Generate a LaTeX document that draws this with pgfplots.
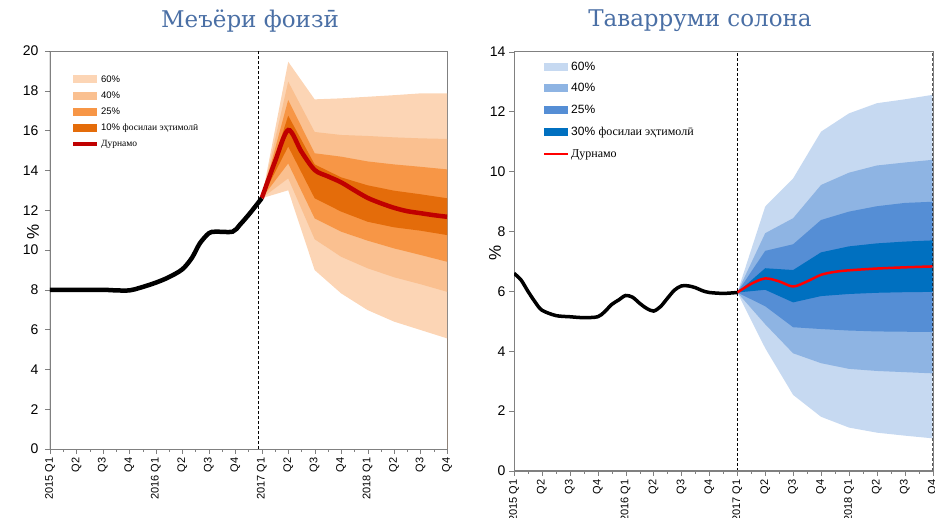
\documentclass[border=0pt]{standalone}
\usepackage{fontspec}
\setmainfont{Liberation Sans}
\newfontfamily\serifcyr{Liberation Serif}
\newfontfamily\titlefont{DejaVu Serif}
\usepackage{pgfplots}
\pgfplotsset{compat=1.18}
\definecolor{o60}{HTML}{FCD5B5}
\definecolor{o40}{HTML}{FAC090}
\definecolor{o25}{HTML}{F79646}
\definecolor{o10}{HTML}{E46C0A}
\definecolor{dred}{HTML}{C00000}
\definecolor{b60}{HTML}{C6D9F1}
\definecolor{b40}{HTML}{8EB4E3}
\definecolor{b25}{HTML}{558ED5}
\definecolor{b10}{HTML}{0070C0}
\definecolor{ttl}{HTML}{4A6FA5}
\pgfplotsset{
  patch/.style={area legend, legend image code/.code={\fill[##1] (0pt,-4pt) rectangle (24pt,4pt);}},
  lineleg/.style={legend image code/.code={\draw[##1] (0pt,0pt) -- (24pt,0pt);}},
  fanaxis/.style={
    scale only axis, xmin=0, xmax=15,
    xtick={0,...,15},
    xticklabels={2015 Q1,Q2,Q3,Q4,2016 Q1,Q2,Q3,Q4,2017 Q1,Q2,Q3,Q4,2018 Q1,Q2,Q3,Q4},
    minor x tick num=1,
    xtick pos=bottom, ytick pos=left,
    x tick label style={rotate=90, anchor=east, font=\fontsize{11}{12}\selectfont},
    y tick label style={font=\fontsize{14}{15}\selectfont},
    /pgf/number format/assume math mode=true,
    tick align=outside, major tick length=5pt, minor tick length=3pt,
    axis line style={draw=gray}, tick style={draw=gray},
    no markers,
    legend cell align=left,
  },
}
\begin{document}
\begin{tikzpicture}[x=1pt,y=1pt]
\useasboundingbox (0,0) rectangle (935,518);
\node[font=\titlefont\fontsize{23}{26}\selectfont, text=ttl] at (250,497) {Меъёри фоизӣ};
\node[font=\titlefont\fontsize{23}{26}\selectfont, text=ttl] at (700,497) {Таварруми солона};
\node[rotate=90, font=\fontsize{17}{18}\selectfont] at (33,286) {\%};
\node[rotate=90, font=\fontsize{17}{18}\selectfont] at (495,265) {\%};

% ---------------- left chart
\begin{axis}[fanaxis, at={(50pt,69pt)}, anchor=south west, width=397pt, height=398pt,
  ymin=0, ymax=20, ytick={0,2,...,20},
  y tick label style={xshift=-3pt},
  legend style={at={(rel axis cs:0.045,0.948)}, anchor=north west, draw=none, fill=none,
    font=\fontsize{9.5}{10}\selectfont, row sep=5pt, nodes={inner sep=1.5pt}}]
\addplot[fill=o60, draw=none, patch] coordinates {
 (8,12.6) (9,19.46) (10,17.57) (11,17.62) (12,17.7) (13,17.78) (14,17.87) (15,17.87)
 (15,5.56) (14,5.98) (13,6.4) (12,6.98) (11,7.82) (10,8.99) (9,13.0)} --cycle;
\addlegendentry{60\%}
\addplot[fill=o40, draw=none, patch] coordinates {
 (8,12.6) (9,18.46) (10,15.93) (11,15.78) (12,15.73) (13,15.66) (14,15.61) (15,15.58)
 (15,7.9) (14,8.28) (13,8.63) (12,9.08) (11,9.66) (10,10.54) (9,13.6)} --cycle;
\addlegendentry{40\%}
\addplot[fill=o25, draw=none, patch] coordinates {
 (8,12.6) (9,17.54) (10,14.86) (11,14.69) (12,14.45) (13,14.3) (14,14.18) (15,14.05)
 (15,9.41) (14,9.75) (13,10.08) (12,10.47) (11,10.92) (10,11.59) (9,14.35)} --cycle;
\addlegendentry{25\%}
\addplot[fill=o10, draw=none, patch] coordinates {
 (8,12.6) (9,16.75) (10,14.3) (11,13.65) (12,13.25) (13,12.98) (14,12.8) (15,12.6)
 (15,10.75) (14,10.97) (13,11.14) (12,11.42) (11,11.93) (10,12.6) (9,15.2)} --cycle;
\addlegendentry{10\% {\serifcyr фосилаи эҳтимолӣ}}
\addplot[dred, line width=4.5pt, smooth, tension=0.5, lineleg] coordinates {
 (8,12.6) (8.5,14.44) (9,16.03) (9.5,14.94) (10,14.02) (10.5,13.7) (11,13.4)
 (11.5,13.0) (12,12.62) (12.5,12.35) (13,12.12) (13.5,11.95) (14,11.85) (14.5,11.75) (15,11.67)};
\addlegendentry{{\serifcyr Дурнамо}}
\addplot[black, line width=4.5pt, smooth, tension=0.5, forget plot] coordinates {
 (0,8.0) (1,8.0) (2,8.0) (2.5,7.97) (3,7.97) (3.4,8.1) (4,8.36) (4.5,8.64) (5,9.03)
 (5.36,9.6) (5.66,10.33) (6,10.84) (6.25,10.92) (6.9,10.92) (7.17,11.26) (7.55,11.84) (8,12.6)};
\draw[black, densely dashed, line width=0.8pt] (axis cs:7.86,0) -- (axis cs:7.86,20);
\draw[black, line width=1pt] (axis cs:0,0) -- (axis cs:0,20);
\draw[o25!45!gray, line width=0.7pt] (axis cs:0,0) -- (axis cs:15,0);
\draw[o25, line width=1pt] (axis cs:15,0) -- (axis cs:15,5.56);
\end{axis}

% ---------------- right chart
\begin{axis}[fanaxis, at={(514pt,47pt)}, anchor=south west, width=418.7pt, height=419.3pt,
  ymin=0, ymax=14, ytick={0,2,...,14},
  legend style={at={(rel axis cs:0.062,0.985)}, anchor=north west, draw=none, fill=none,
    font=\fontsize{12}{13}\selectfont, row sep=9pt, nodes={inner sep=1.5pt}}]
\addplot[fill=b60, draw=none, patch] coordinates {
 (8,5.96) (9,8.83) (10,9.77) (11,11.33) (12,11.94) (13,12.28) (14,12.41) (15,12.56)
 (15,1.09) (14,1.18) (13,1.28) (12,1.45) (11,1.81) (10,2.54) (9,4.1)} --cycle;
\addlegendentry{60\%}
\addplot[fill=b40, draw=none, patch] coordinates {
 (8,5.96) (9,7.94) (10,8.44) (11,9.55) (12,9.96) (13,10.2) (14,10.3) (15,10.39)
 (15,3.26) (14,3.3) (13,3.34) (12,3.41) (11,3.6) (10,3.93) (9,4.9)} --cycle;
\addlegendentry{40\%}
\addplot[fill=b25, draw=none, patch] coordinates {
 (8,5.96) (9,7.35) (10,7.57) (11,8.38) (12,8.66) (13,8.84) (14,8.95) (15,8.99)
 (15,4.64) (14,4.65) (13,4.66) (12,4.69) (11,4.74) (10,4.8) (9,5.5)} --cycle;
\addlegendentry{25\%}
\addplot[fill=b10, draw=none, patch] coordinates {
 (8,5.96) (9,6.77) (10,6.71) (11,7.3) (12,7.5) (13,7.6) (14,7.66) (15,7.7)
 (15,5.98) (14,5.97) (13,5.95) (12,5.91) (11,5.84) (10,5.63) (9,6.05)} --cycle;
\addlegendentry{30\% {\serifcyr фосилаи эҳтимолӣ}}
\addplot[red, line width=2.5pt, smooth, tension=0.5, lineleg] coordinates {
 (8,5.96) (8.5,6.25) (9,6.43) (9.5,6.33) (10,6.16) (10.5,6.33) (11,6.55) (11.5,6.65)
 (12,6.7) (13,6.76) (14,6.8) (15,6.83)};
\addlegendentry{{\serifcyr Дурнамо}}
\addplot[black, line width=3.5pt, smooth, tension=0.5, forget plot] coordinates {
 (0,6.6) (0.25,6.38) (0.5,6.0) (0.75,5.65) (1,5.37) (1.5,5.19) (2,5.15) (2.5,5.12)
 (3,5.15) (3.25,5.32) (3.5,5.56) (3.75,5.71) (4,5.86) (4.25,5.8) (4.5,5.6) (4.75,5.43)
 (5,5.34) (5.25,5.49) (5.5,5.77) (5.75,6.04) (6,6.18) (6.25,6.18) (6.5,6.12)
 (6.75,6.02) (7,5.96) (7.5,5.93) (8,5.96)};
\draw[black, densely dashed, line width=0.8pt] (axis cs:8,0) -- (axis cs:8,14);
\draw[black, densely dashed, line width=0.8pt] (axis cs:15,0) -- (axis cs:15,14);
\draw[gray, line width=1.2pt] (axis cs:0,0) -- (axis cs:15,0);
\end{axis}
\end{tikzpicture}
\end{document}
